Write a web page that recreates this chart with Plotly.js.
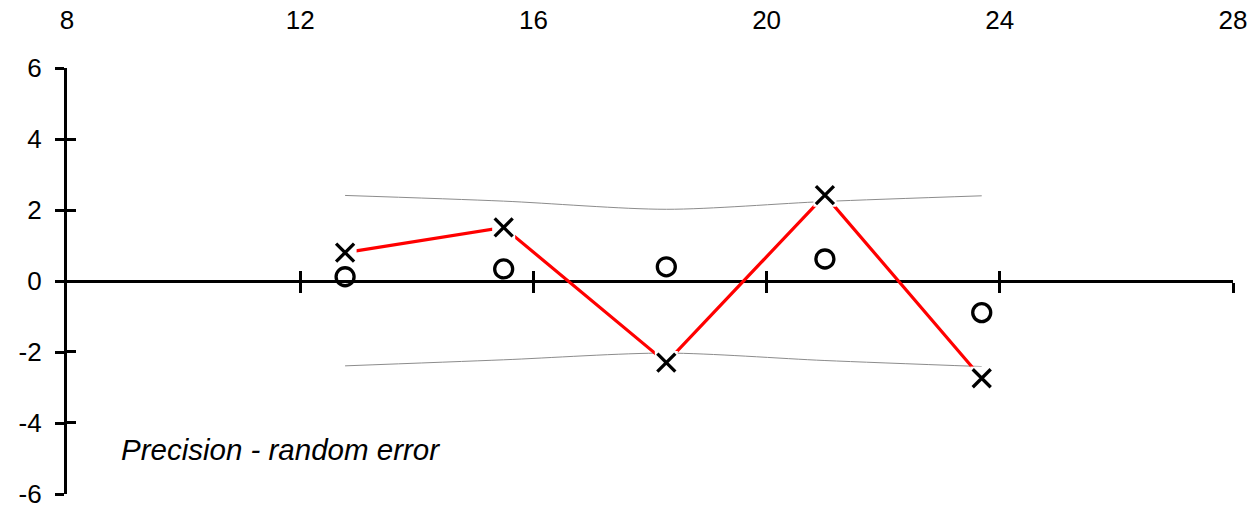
<!DOCTYPE html>
<html>
<head>
<meta charset="utf-8">
<script src="https://cdn.plot.ly/plotly-3.0.1.min.js"></script>
<style>
  html, body { margin: 0; padding: 0; background: #fff; }
  #chart { width: 1256px; height: 508px; }
</style>
</head>
<body>
<div id="chart"></div>
<script>
// Measurement positions along the run
const runX = [12.77, 15.49, 18.28, 21.0, 23.69];
// Observed error at each run (crosses joined by the red line)
const errorValues = [0.80, 1.51, -2.30, 2.42, -2.74];
// Mean offset at each run (open circles)
const meanValues = [0.12, 0.34, 0.40, 0.62, -0.89];
// Upper and lower precision limits
const upperLimit = [2.41, 2.25, 2.02, 2.24, 2.40];
const lowerLimit = [-2.39, -2.22, -2.03, -2.24, -2.41];
// Axis tick labels
const topTicks = [8, 12, 16, 20, 24, 28];
const lineTicks = [12, 16, 20, 24, 28];
const yTicks = [-6, -4, -2, 0, 2, 4, 6];

const fontFamily = 'Arial, "Liberation Sans", sans-serif';

const traces = [
  {
    x: runX, y: upperLimit, mode: 'lines', hoverinfo: 'skip',
    line: { color: '#8c8c8c', width: 1, shape: 'spline', smoothing: 0.8 }
  },
  {
    x: runX, y: lowerLimit, mode: 'lines', hoverinfo: 'skip',
    line: { color: '#8c8c8c', width: 1, shape: 'spline', smoothing: 0.8 }
  },
  {
    x: runX, y: errorValues, mode: 'lines',
    line: { color: '#ff0000', width: 3.2 }
  },
  {
    // white backing so lines stop short of each cross (on the overlay carrying inner y ticks)
    x: runX, y: errorValues, mode: 'markers', hoverinfo: 'skip', xaxis: 'x', yaxis: 'y2',
    marker: { symbol: 'square', size: 23, color: '#ffffff', line: { width: 0 } }
  },
  {
    // crosses on the overlay that carries the axis line through zero
    x: runX, y: errorValues, mode: 'markers', xaxis: 'x2', yaxis: 'y',
    marker: { symbol: 'x-thin', size: 18, color: '#000', line: { color: '#000', width: 3.3 } }
  },
  {
    x: runX, y: meanValues, mode: 'markers', xaxis: 'x3', yaxis: 'y',
    marker: { symbol: 'circle-open', size: 18, color: '#000', line: { color: '#000', width: 3.3 } }
  }
];

const layout = {
  width: 1256,
  height: 508,
  margin: { l: 67, r: 23, t: 68, b: 14 },
  paper_bgcolor: '#fff',
  plot_bgcolor: '#fff',
  showlegend: false,
  font: { family: fontFamily, size: 26, color: '#000' },
  xaxis: {
    range: [8, 28],
    side: 'top',
    tickmode: 'array',
    tickvals: topTicks,
    ticktext: topTicks.map(String),
    ticks: '',
    showline: false,
    showgrid: false,
    zeroline: false,
    ticklabelstandoff: 33,
    ticklabeloverflow: 'allow',
    tickfont: { family: fontFamily, size: 26, color: '#000' },
    fixedrange: true
  },
  // axis line through y = 0 with ticks crossing it
  xaxis2: {
    overlaying: 'x', matches: 'x', anchor: 'free', position: 0.5,
    tickmode: 'array', tickvals: lineTicks,
    ticks: 'outside', ticklen: 10, tickwidth: 3, tickcolor: '#000',
    showticklabels: false, showline: true, linewidth: 3.2, linecolor: '#000',
    showgrid: false, zeroline: false, layer: 'below traces'
  },
  xaxis3: {
    overlaying: 'x', matches: 'x', anchor: 'free', position: 0.5,
    tickmode: 'array', tickvals: lineTicks,
    ticks: 'inside', ticklen: 10, tickwidth: 3, tickcolor: '#000',
    showticklabels: false, showline: false,
    showgrid: false, zeroline: false, layer: 'below traces'
  },
  yaxis: {
    range: [-6, 6],
    tickmode: 'array',
    tickvals: yTicks,
    ticktext: yTicks.map(String),
    ticks: 'outside', ticklen: 9, tickwidth: 3, tickcolor: '#000',
    showline: true, linewidth: 3.2, linecolor: '#000',
    showgrid: false, zeroline: false,
    ticklabelstandoff: 8,
    ticklabeloverflow: 'allow',
    tickfont: { family: fontFamily, size: 26, color: '#000' },
    layer: 'below traces',
    fixedrange: true
  },
  // inner halves of the y ticks; range padded a hair so the end ticks are kept
  yaxis2: {
    overlaying: 'y', anchor: 'x', side: 'left',
    range: [-6.012, 6.012],
    tickmode: 'array', tickvals: yTicks,
    ticks: 'inside', ticklen: 9, tickwidth: 3, tickcolor: '#000',
    showticklabels: false, showline: false,
    showgrid: false, zeroline: false,
    fixedrange: true
  },
  annotations: [
    {
      xref: 'x', yref: 'y', x: 8.9, y: -4.76,
      xanchor: 'left', yanchor: 'middle', showarrow: false,
      text: '<i>Precision - random error</i>',
      font: { family: fontFamily, size: 29.5, color: '#000' }
    }
  ]
};

Plotly.newPlot('chart', traces, layout, { staticPlot: true, displayModeBar: false });
</script>
</body>
</html>
